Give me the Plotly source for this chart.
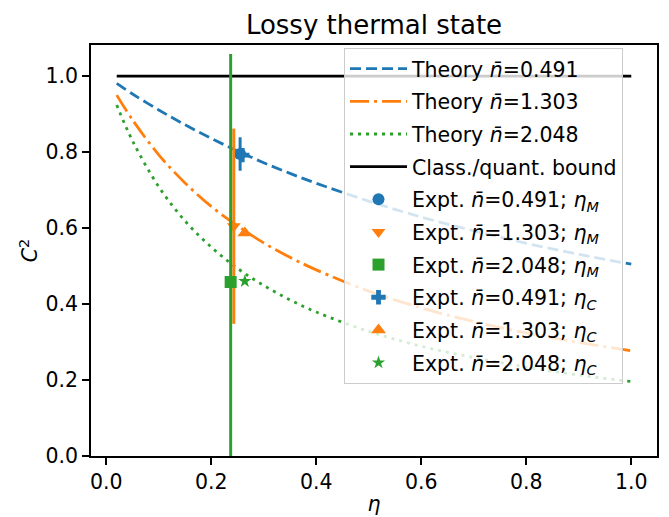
import plotly.graph_objects as go

# Theory curves
eta = [0.02, 0.05, 0.1, 0.15, 0.2, 0.25, 0.3, 0.35, 0.4, 0.5, 0.6, 0.7, 0.8, 0.9, 1.0]
theory_0491 = [0.981, 0.953, 0.911, 0.872, 0.836, 0.803, 0.772, 0.744, 0.718, 0.671, 0.629, 0.593, 0.560, 0.531, 0.505]
theory_1303 = [0.950, 0.885, 0.793, 0.719, 0.657, 0.606, 0.561, 0.523, 0.490, 0.434, 0.390, 0.354, 0.324, 0.299, 0.277]
theory_2048 = [0.924, 0.830, 0.709, 0.619, 0.550, 0.494, 0.449, 0.411, 0.379, 0.328, 0.289, 0.259, 0.234, 0.213, 0.196]
bound_x = [0.02, 1.0]
bound_y = [1.0, 1.0]

# Experimental points
labels_n = ["0.491", "1.303", "2.048"]
etaM_x = [0.255, 0.243, 0.237]
etaM_y = [0.795, 0.605, 0.458]
etaM_err = [0.044, 0.257, 0.60]
etaC_x = [0.259, 0.264, 0.264]
etaC_y = [0.792, 0.587, 0.460]

colors = ["#1f77b4", "#ff7f0e", "#2ca02c"]
dashes = ["11px,5px", "19px,5px,3px,5px", "3px,5px"]
symM = ["circle", "triangle-down", "square"]
symC = ["cross", "triangle-up", "star"]
sizeC = [12, 13, 10]

FS = 20.5
fig = go.Figure()
k = 0
for ys, c, d, n in zip([theory_0491, theory_1303, theory_2048], colors, dashes, labels_n):
    fig.add_trace(go.Scatter(x=eta, y=ys, mode="lines", line=dict(color=c, dash=d, width=2.8, shape="spline"),
                             name="Theory <i>n̄</i>=%s" % n, legendgroup="g%d" % k))
    k += 1
fig.add_trace(go.Scatter(x=bound_x, y=bound_y, mode="lines", line=dict(color="black", width=2.8),
                         name="Class./quant. bound", legendgroup="g%d" % k))
k += 1
for i in range(3):
    fig.add_trace(go.Scatter(x=[etaM_x[i]], y=[etaM_y[i]], mode="markers",
                             marker=dict(color=colors[i], symbol=symM[i], size=12),
                             error_y=dict(type="data", array=[etaM_err[i]], color=colors[i], thickness=3, width=0),
                             name="Expt. <i>n̄</i>=%s; <i>η<sub>M</sub></i>" % labels_n[i], legendgroup="g%d" % k))
    k += 1
for i in range(3):
    fig.add_trace(go.Scatter(x=[etaC_x[i]], y=[etaC_y[i]], mode="markers",
                             marker=dict(color=colors[i], symbol=symC[i], size=sizeC[i]),
                             name="Expt. <i>n̄</i>=%s; <i>η<sub>C</sub></i>" % labels_n[i], legendgroup="g%d" % k))
    k += 1

axis_common = dict(showline=True, linecolor="black", linewidth=1.7, mirror=True, ticks="outside",
                   ticklen=7, tickwidth=1.7, tickcolor="black", showgrid=False, zeroline=False,
                   tickfont=dict(size=FS, color="black"), automargin=False)
W, H = 661, 509
L, R, T, B = 83, 12, 37, 61
fig.update_layout(
    width=W, height=H,
    margin=dict(l=L, r=R, t=T, b=B, autoexpand=False),
    paper_bgcolor="white", plot_bgcolor="white",
    font=dict(family="DejaVu Sans", color="black"),
    title=dict(text="Lossy thermal state", x=(L + (W - L - R) / 2) / W, xanchor="center",
               y=1 - 17 / H, yanchor="middle", font=dict(size=26)),
    xaxis=dict(range=[-0.029, 1.049], tickvals=[0, 0.2, 0.4, 0.6, 0.8, 1.0],
               ticktext=["0.0", "0.2", "0.4", "0.6", "0.8", "1.0"],
               title=dict(text="<i>η</i>", font=dict(size=FS), standoff=3), **axis_common),
    yaxis=dict(range=[0, 1.082], tickvals=[0, 0.2, 0.4, 0.6, 0.8, 1.0],
               ticktext=["0.0", "0.2", "0.4", "0.6", "0.8", "1.0"],
               title=dict(text="<i>C</i><sup>2</sup>", font=dict(size=FS), standoff=2), **axis_common),
    legend=dict(x=0.447, y=0.993, xanchor="left", yanchor="top", bgcolor="rgba(255,255,255,0.8)",
                bordercolor="#cccccc", borderwidth=1, font=dict(size=FS), tracegroupgap=3,
                itemwidth=57),
    showlegend=True,
)
fig.write_html("out.html")
